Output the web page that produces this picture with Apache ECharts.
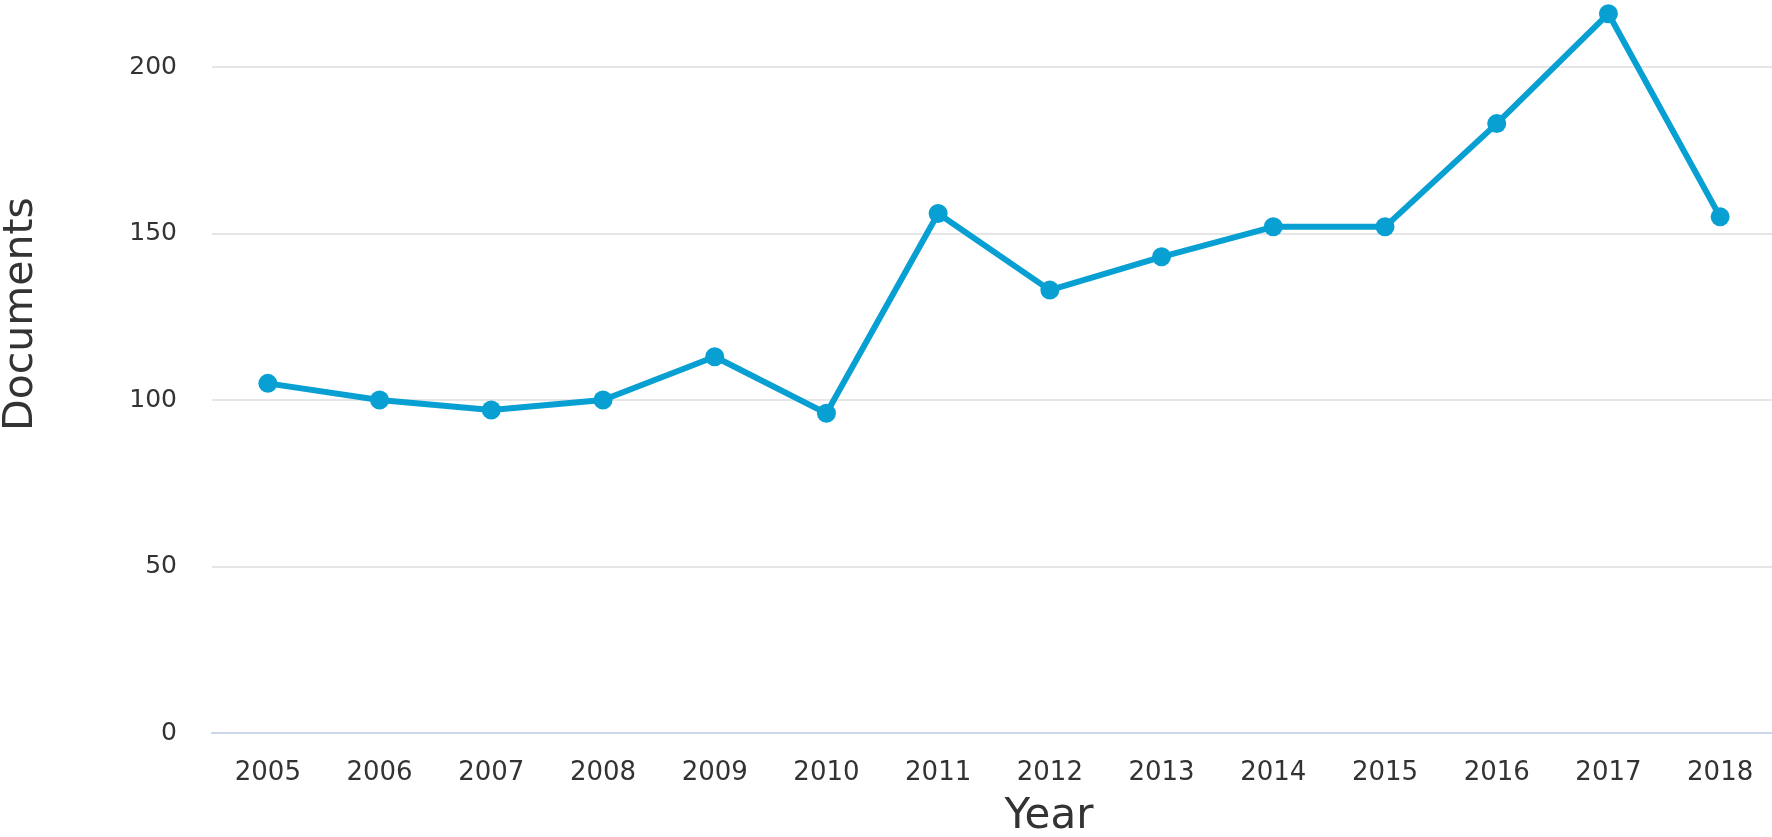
<!DOCTYPE html>
<html>
<head>
<meta charset="utf-8">
<script src="https://cdn.jsdelivr.net/npm/echarts@6/dist/echarts.min.js"></script>
<style>
html,body{margin:0;padding:0;background:#fff;}
#chart{width:1772px;height:837px;}
</style>
</head>
<body>
<div id="chart"></div>
<script>
const years = ['2005','2006','2007','2008','2009','2010','2011','2012','2013','2014','2015','2016','2017','2018'];
const documents = [105, 100, 97, 100, 113, 96, 156, 133, 143, 152, 152, 183, 216, 155];
const yTicks = [0, 50, 100, 150, 200];
const xTitle = 'Year';
const yTitle = 'Documents';

const chart = echarts.init(document.getElementById('chart'), null, {renderer: 'canvas'});
chart.setOption({
  animation: false,
  backgroundColor: '#ffffff',
  grid: {left: 212, right: -4, top: 67, bottom: 104, containLabel: false, outerBoundsMode: 'none'},
  graphic: [
    {
      type: 'text', x: 1049, y: 817, silent: true,
      style: {text: xTitle, fontFamily: 'DejaVu Sans', fontSize: 42, fill: '#333333', align: 'center', verticalAlign: 'middle'}
    },
    {
      type: 'text', x: 21, y: 314, rotation: Math.PI / 2, silent: true,
      style: {text: yTitle, fontFamily: 'DejaVu Sans', fontSize: 41, fill: '#333333', align: 'center', verticalAlign: 'middle'}
    }
  ],
  xAxis: {
    type: 'category',
    data: years,
    boundaryGap: true,
    axisLine: {show: true, lineStyle: {color: '#ccd6eb', width: 2}},
    axisTick: {show: false},
    axisLabel: {fontFamily: 'DejaVu Sans', fontSize: 26, color: '#333333', margin: 27, interval: 0},
    splitLine: {show: false}
  },
  yAxis: {
    type: 'value',
    min: yTicks[0],
    max: yTicks[yTicks.length - 1],
    interval: 50,
    axisLine: {show: false},
    axisTick: {show: false},
    axisLabel: {fontFamily: 'DejaVu Sans', fontSize: 25, color: '#333333', margin: 35, padding: [10, 0, 0, 0]},
    splitLine: {show: true, lineStyle: {color: '#dedede', width: 1.5}}
  },
  series: [{
    type: 'line',
    data: documents,
    clip: false,
    symbol: 'circle',
    symbolSize: 19,
    lineStyle: {color: '#08a0d2', width: 6},
    itemStyle: {color: '#08a0d2'},
    z: 3
  }]
});
</script>
</body>
</html>
